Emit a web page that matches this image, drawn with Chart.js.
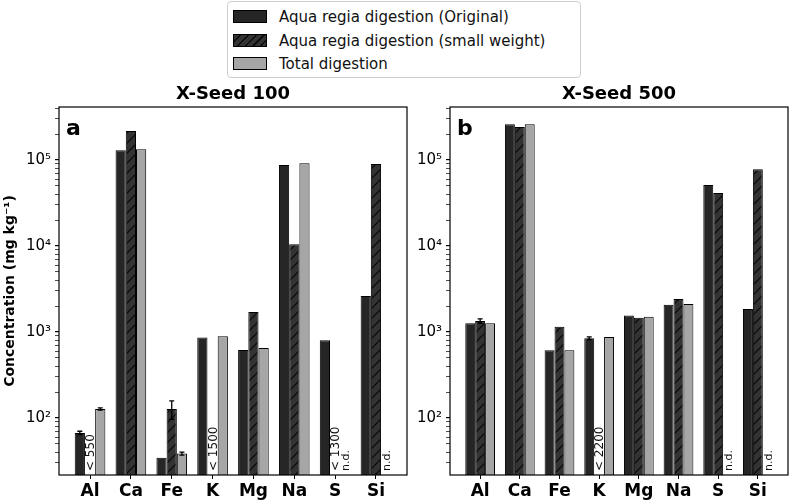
<!DOCTYPE html>
<html>
<head>
<meta charset="utf-8">
<script src="https://cdn.jsdelivr.net/npm/chart.js@4.4.1/dist/chart.umd.min.js"></script>
<style>
body { margin: 0; background: #fff; font-family: "DejaVu Sans", sans-serif; }
#wrap { position: relative; width: 800px; height: 500px; overflow: hidden; }
#c1 { position: absolute; left: 0; top: 0; }
#c2 { position: absolute; left: 408px; top: 0; }
#legend { position: absolute; left: 227px; top: 1px; width: 354px; height: 77px; box-sizing: border-box;
  border: 1px solid #cfcfcf; border-radius: 4px; background: #fff; z-index: 2; }
.row { position: absolute; left: 5px; height: 18px; font-size: 15px; line-height: 18px; color: #111; white-space: nowrap; }
.sw { display: inline-block; width: 32px; height: 11px; border: 1px solid #000; vertical-align: -1px; margin-right: 12px; }
</style>
</head>
<body>
<div id="wrap">
  <div id="legend">
    <div class="row" style="top:6px"><span class="sw" style="background:#262626"></span>Aqua regia digestion (Original)</div>
    <div class="row" style="top:30px"><span class="sw" style="background:repeating-linear-gradient(135deg,#333 0 4px,#0d0d0d 4px 5.5px)"></span>Aqua regia digestion (small weight)</div>
    <div class="row" style="top:53px"><span class="sw" style="background:#a6a6a6"></span>Total digestion</div>
  </div>
  <canvas id="c1" width="410" height="500"></canvas>
  <canvas id="c2" width="392" height="500"></canvas>
</div>
<script>
// elementi
const elementi = ['Al', 'Ca', 'Fe', 'K', 'Mg', 'Na', 'S', 'Si'];

// X-Seed 100 (mg/kg)
const seed100Originale = [67, 130000, 34.5, 860, 617, 87500, 800, 2620];
const seed100Piccolo   = [null, 217000, 127, null, 1710, 10500, null, 89800];
const seed100Totale    = [127, 133000, 38.5, 890, 651, 91600, null, null];
const err100Originale  = [3, 0, 0, 0, 0, 0, 0, 0];
const err100Piccolo    = [0, 0, 31, 0, 0, 0, 0, 0];
const err100Totale     = [4, 0, 1.5, 0, 0, 0, 0, 0];

// X-Seed 500 (mg/kg)
const seed500Originale = [1262, 260000, 612, 846, 1550, 2075, 51200, 1850];
const seed500Piccolo   = [1343, 242000, 1153, null, 1466, 2420, 41300, 78000];
const seed500Totale    = [1262, 260000, 612, 875, 1500, 2120, null, null];
const err500Originale  = [0, 0, 0, 30, 0, 0, 0, 0];
const err500Piccolo    = [80, 0, 0, 0, 0, 0, 0, 0];
const err500Totale     = [0, 0, 0, 0, 0, 0, 0, 0];

// note sotto il limite / non determinato: [indice elemento, serie, testo]
const note100 = [[0, 1, '< 550'], [3, 1, '< 1500'], [6, 1, '< 1300'], [6, 2, 'n.d.'], [7, 2, 'n.d.']];
const note500 = [[3, 1, '< 2200'], [6, 2, 'n.d.'], [7, 2, 'n.d.']];

const yTicks = [100, 1000, 10000, 100000];
const apici = { 2: '²', 3: '³', 4: '⁴', 5: '⁵' };
const FONT = '"DejaVu Sans", sans-serif';

function creaTratteggio() {
    const c = document.createElement('canvas');
    c.width = 10; c.height = 10;
    const g = c.getContext('2d');
    g.fillStyle = '#333';
    g.fillRect(0, 0, 10, 10);
    g.strokeStyle = '#0d0d0d';
    g.lineWidth = 1.3;
    g.beginPath();
    g.moveTo(0, 10); g.lineTo(10, 0);
    g.moveTo(-5, 5); g.lineTo(5, -5);
    g.moveTo(5, 15); g.lineTo(15, 5);
    g.stroke();
    return g.createPattern(c, 'repeat');
}

function punti(valori) {
    return valori.map((v, i) => ({ x: i, y: v }));
}

function eMinore(v) {
    const e = Math.floor(Math.log10(v) + 1e-9);
    const m = v / Math.pow(10, e);
    return Math.abs(m - Math.round(m)) < 1e-6;
}

// cornice, titolo, lettera, barre d'errore e note
const decorazioni = {
    id: 'decorazioni',
    afterDatasetsDraw(chart, args, opts) {
        const ctx = chart.ctx;
        const a = chart.chartArea;
        const xs = chart.scales.x, ys = chart.scales.y;
        const passo = xs.getPixelForValue(1) - xs.getPixelForValue(0);
        const larg = passo * 0.25;

        ctx.save();
        // barre d'errore
        ctx.strokeStyle = '#000';
        ctx.lineWidth = 1.3;
        opts.errori.forEach((errs, d) => {
            const meta = chart.getDatasetMeta(d);
            const valori = chart.data.datasets[d].data;
            errs.forEach((e, i) => {
                if (!e || valori[i].y == null) return;
                const x = meta.data[i].x;
                const y1 = ys.getPixelForValue(valori[i].y + e);
                const y2 = ys.getPixelForValue(valori[i].y - e);
                ctx.beginPath();
                ctx.moveTo(x, y1); ctx.lineTo(x, y2);
                ctx.moveTo(x - 2.5, y1); ctx.lineTo(x + 2.5, y1);
                ctx.moveTo(x - 2.5, y2); ctx.lineTo(x + 2.5, y2);
                ctx.stroke();
            });
        });

        // note verticali
        ctx.fillStyle = '#111';
        ctx.textAlign = 'left';
        ctx.textBaseline = 'middle';
        opts.note.forEach(([i, serie, testo]) => {
            const x = xs.getPixelForValue(i) + (serie - 1) * larg + 1;
            ctx.save();
            ctx.translate(x, a.bottom - 4);
            ctx.rotate(-Math.PI / 2);
            ctx.font = (testo === 'n.d.' ? '11px ' : '12px ') + FONT;
            ctx.fillText(testo, 0, 0);
            ctx.restore();
        });

        // cornice
        ctx.lineWidth = 1.2;
        ctx.strokeStyle = '#000';
        ctx.strokeRect(a.left, a.top, a.right - a.left, a.bottom - a.top);

        // lettera del pannello
        ctx.fillStyle = '#000';
        ctx.font = 'bold 22px ' + FONT;
        ctx.textAlign = 'left';
        ctx.textBaseline = 'alphabetic';
        ctx.fillText(opts.lettera, a.left + 7, a.top + 28);

        // titolo
        ctx.font = 'bold 18px ' + FONT;
        ctx.textAlign = 'center';
        ctx.fillText(opts.titolo, (a.left + a.right) / 2, a.top - 8);
        ctx.restore();
    }
};

function creaGrafico(id, originale, piccolo, totale, errori, note, titolo, lettera, larghezzaY, destra, mostraTitoloY) {
    const ctx = document.getElementById(id).getContext('2d');
    return new Chart(ctx, {
        type: 'bar',
        data: {
            datasets: [
                { label: 'Aqua regia digestion (Original)', data: punti(originale), backgroundColor: '#262626', borderColor: '#000', borderWidth: 1 },
                { label: 'Aqua regia digestion (small weight)', data: punti(piccolo), backgroundColor: creaTratteggio(), borderColor: '#000', borderWidth: 1 },
                { label: 'Total digestion', data: punti(totale), backgroundColor: '#a6a6a6', borderColor: '#000', borderWidth: 1 }
            ]
        },
        options: {
            responsive: false,
            animation: false,
            categoryPercentage: 0.75,
            barPercentage: 1.0,
            layout: { padding: { top: 107, right: destra, bottom: 0, left: 0 } },
            plugins: {
                legend: { display: false },
                tooltip: { enabled: false },
                decorazioni: { errori, note, titolo, lettera }
            },
            scales: {
                x: {
                    type: 'linear',
                    offset: false,
                    min: -0.76, max: 7.76,
                    afterFit: s => { s.height = 25; },
                    afterBuildTicks: s => { s.ticks = elementi.map((_, i) => ({ value: i })); },
                    grid: { drawOnChartArea: false, offset: false, tickLength: 4, color: '#000', lineWidth: 1 },
                    border: { display: false },
                    ticks: {
                        color: '#000', padding: 2, autoSkip: false, maxRotation: 0,
                        font: { family: FONT, size: 17, weight: 'bold' },
                        callback: v => elementi[v]
                    }
                },
                y: {
                    type: 'logarithmic',
                    min: 21.7, max: 413000,
                    afterFit: s => { s.width = larghezzaY; },
                    afterBuildTicks: s => { s.ticks = s.ticks.filter(t => eMinore(t.value)); },
                    grid: {
                        drawOnChartArea: false, tickLength: 4, color: '#000',
                        lineWidth: c => yTicks.includes(Math.round(c.tick ? c.tick.value : 0)) ? 1.2 : 0.7
                    },
                    border: { display: false },
                    ticks: {
                        color: '#000', padding: 4, autoSkip: false,
                        font: { family: FONT, size: 15 },
                        callback: v => {
                            const e = Math.round(Math.log10(v));
                            return yTicks.includes(v) || Math.abs(Math.pow(10, e) - v) < 1e-6 * v ? '10' + apici[e] : '';
                        }
                    },
                    title: {
                        display: mostraTitoloY,
                        text: 'Concentration (mg kg⁻¹)',
                        color: '#000',
                        font: { family: FONT, size: 14, weight: 'bold' },
                        padding: { top: 2, bottom: 0 }
                    }
                }
            }
        },
        plugins: [decorazioni]
    });
}

creaGrafico('c1', seed100Originale, seed100Piccolo, seed100Totale,
    [err100Originale, err100Piccolo, err100Totale], note100, 'X-Seed 100', 'a', 59, 3, true);
creaGrafico('c2', seed500Originale, seed500Piccolo, seed500Totale,
    [err500Originale, err500Piccolo, err500Totale], note500, 'X-Seed 500', 'b', 42, 12, false);
</script>
</body>
</html>
